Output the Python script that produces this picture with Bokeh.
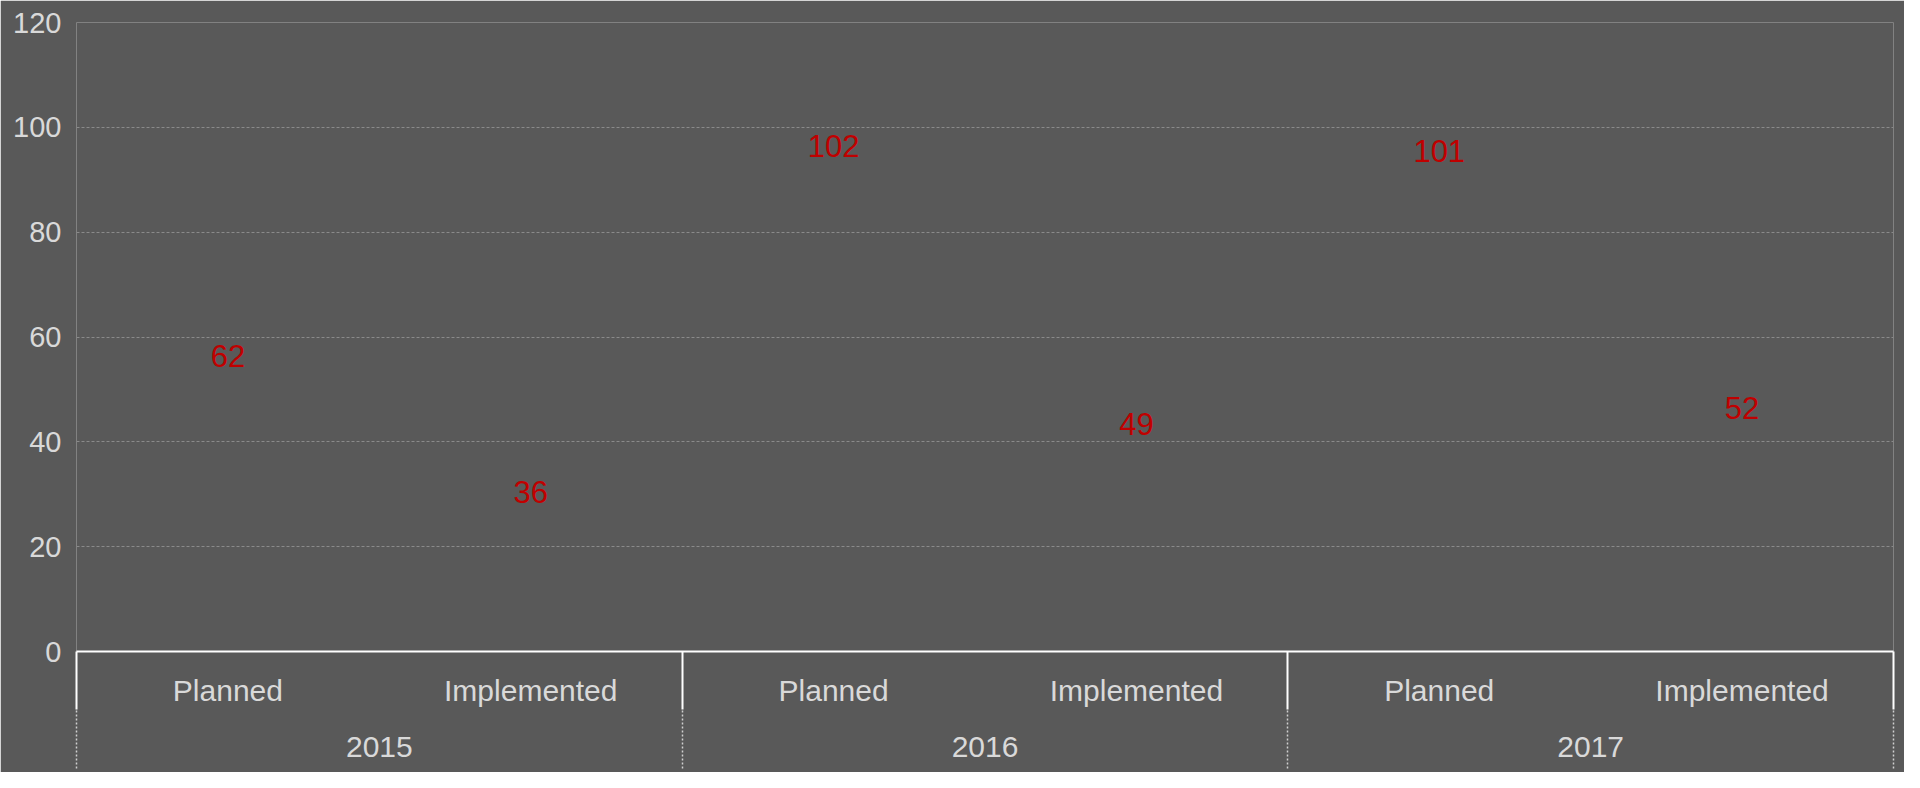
from bokeh.plotting import figure
from bokeh.models import Range1d, FixedTicker, ColumnDataSource, LinearAxis
from bokeh.embed import file_html
from bokeh.resources import INLINE
from bokeh.core.properties import value

years = ["2015", "2016", "2017"]
stages = ["Planned", "Implemented"]
values = [62, 36, 102, 49, 101, 52]
y_ticks = [0, 20, 40, 60, 80, 100, 120]

factors = [(y, s) for y in years for s in stages]
n = len(factors)
k = len(stages)
# positions on a category scale (each category one unit wide)
sub_pos = [i + 0.5 for i in range(n)]
grp_pos = [g * k + k / 2 for g in range(len(years))]
sep_pos = [g * k for g in range(len(years) + 1)]

src = ColumnDataSource(dict(x=sub_pos, y=values, label=[str(v) for v in values]))

BG = "#595959"
FONT = "Liberation Sans"
TXT = "#d9d9d9"

p = figure(
    width=1904, height=772,
    x_range=Range1d(0, n),
    y_range=Range1d(0, 120),
    x_axis_location=None,
    output_backend="svg", toolbar_location=None,
    background_fill_color=BG, border_fill_color=BG,
    min_border_left=76, min_border_right=11, min_border_top=22, min_border_bottom=121,
)
p.outline_line_color = None

p.text(x="x", y="y", text="label", source=src,
       text_color="#c00000", text_font=value(FONT), text_font_size="31px",
       text_align="center", text_baseline="middle", y_offset=29)

# y axis
p.yaxis.ticker = FixedTicker(ticks=y_ticks)
p.yaxis.axis_line_color = None
p.yaxis.major_tick_line_color = None
p.yaxis.minor_tick_line_color = None
p.yaxis.major_tick_out = 0
p.yaxis.minor_tick_out = 0
p.yaxis.major_label_text_color = TXT
p.yaxis.major_label_text_font = FONT
p.yaxis.major_label_text_font_size = "29px"
p.yaxis.major_label_standoff = 15

# x axis, first level: stages, solid separators
ax_sub = LinearAxis(ticker=FixedTicker(ticks=sub_pos, minor_ticks=sep_pos),
                    major_label_overrides={pos: f[1] for pos, f in zip(sub_pos, factors)})
ax_sub.axis_line_color = "white"
ax_sub.axis_line_width = 2
ax_sub.major_tick_line_color = None
ax_sub.major_tick_out = 0
ax_sub.major_tick_in = 0
ax_sub.minor_tick_line_color = "white"
ax_sub.minor_tick_line_width = 2
ax_sub.minor_tick_out = 58
ax_sub.minor_tick_in = 0
ax_sub.major_label_text_color = TXT
ax_sub.major_label_text_font = FONT
ax_sub.major_label_text_font_size = "30px"
ax_sub.major_label_standoff = -36
p.add_layout(ax_sub, "below")

# x axis, second level: years, dashed separators
ax_grp = LinearAxis(ticker=FixedTicker(ticks=grp_pos, minor_ticks=sep_pos),
                    major_label_overrides={pos: y for pos, y in zip(grp_pos, years)})
ax_grp.axis_line_color = None
ax_grp.major_tick_line_color = None
ax_grp.major_tick_out = 0
ax_grp.major_tick_in = 0
ax_grp.minor_tick_line_color = "#d0d0d0"
ax_grp.minor_tick_line_width = 1.5
ax_grp.minor_tick_line_dash = "2 2"
ax_grp.minor_tick_out = 59
ax_grp.minor_tick_in = 0
ax_grp.major_label_text_color = TXT
ax_grp.major_label_text_font = FONT
ax_grp.major_label_text_font_size = "30px"
ax_grp.major_label_standoff = -32
p.add_layout(ax_grp, "below")

p.xgrid.grid_line_color = None
p.ygrid.grid_line_color = "#8a8a8a"
p.ygrid.grid_line_dash = "3 2"
p.ygrid.grid_line_width = 1

open("out.html", "w").write(file_html(p, INLINE))
